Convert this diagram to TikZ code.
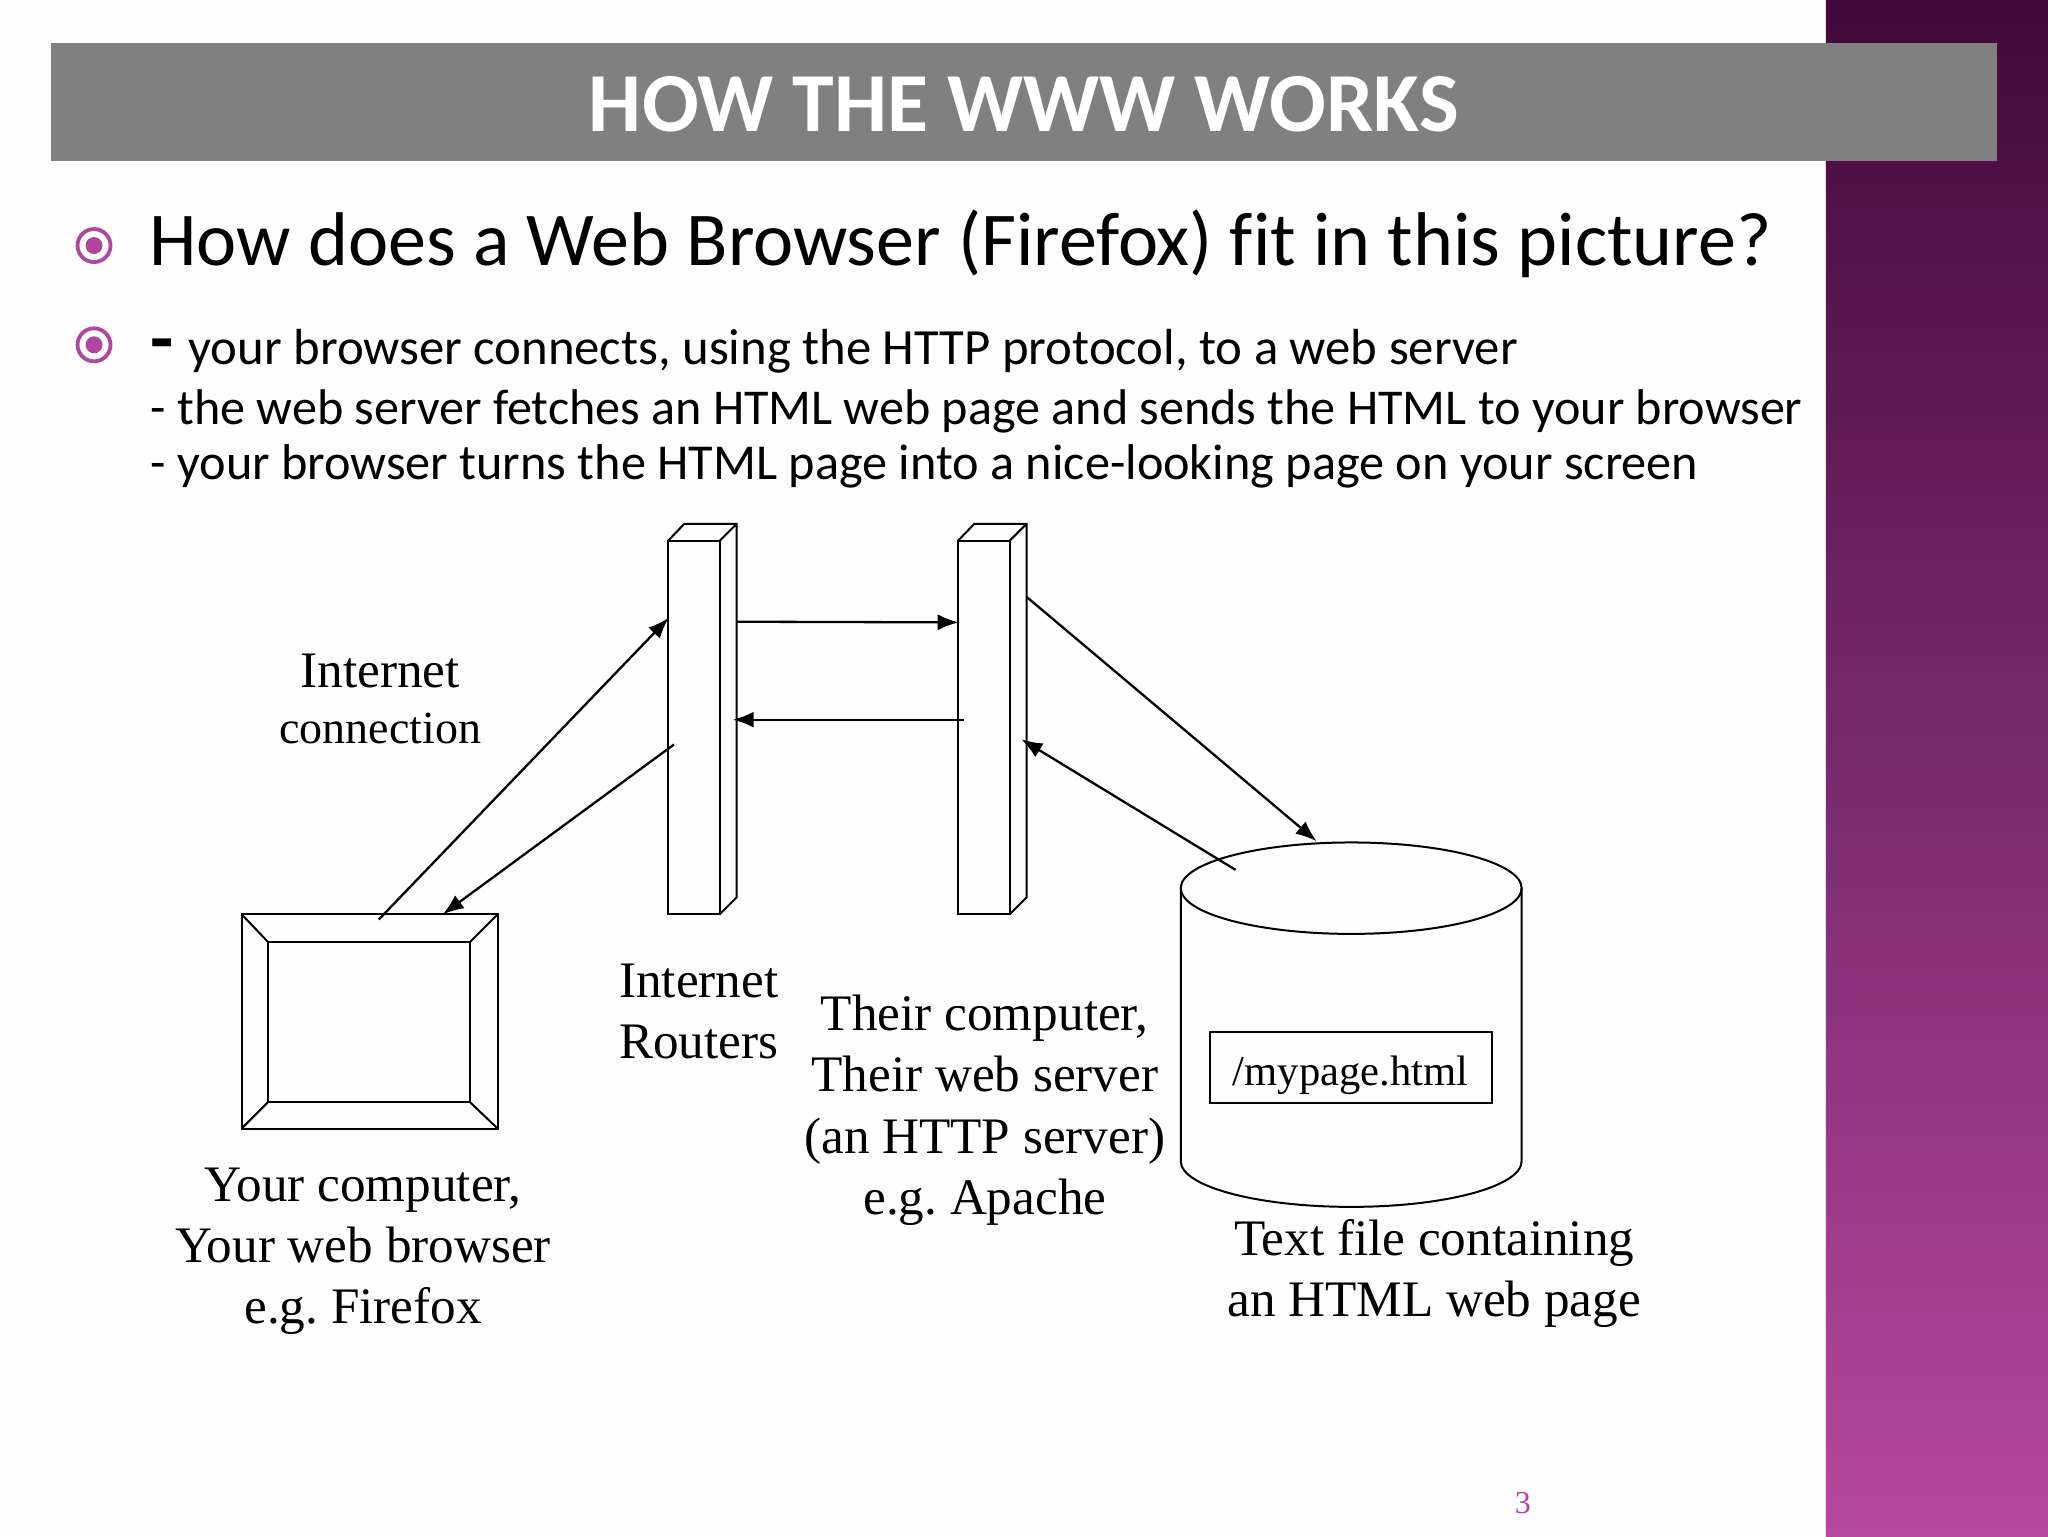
\documentclass[tikz,border=0pt]{standalone}
\usepackage{fontspec}
\usetikzlibrary{arrows.meta}
\setmainfont{Liberation Serif}
\newfontfamily\slidefont[Ligatures=NoCommon]{Carlito}
\definecolor{bandtop}{HTML}{43083A}
\definecolor{bandmid}{HTML}{7A2A6E}
\definecolor{bandbot}{HTML}{B6489F}
\definecolor{accent}{HTML}{B0479F}
\definecolor{titlebar}{HTML}{808080}
\newcommand{\fs}[1]{\fontsize{#1}{#1}\selectfont}
\frenchspacing
\tikzset{
  x=0.65306pt,y=-0.65306pt,
  ink/.style={draw=black,line width=1pt,line join=miter},
  wire/.style={draw=black,line width=1.15pt,-{Latex[length=10.5pt,width=8pt]}},
  titletext/.style={anchor=base,text=white,font=\slidefont\bfseries\fs{42}},
  headline/.style={anchor=base west,text=black,inner sep=0pt,font=\slidefont\fs{38.05}},
  bodyline/.style={anchor=base west,text=black,inner sep=0pt,font=\slidefont\fs{25.2}},
  lab/.style={align=center,inner sep=0pt,font=\fs{25.6},text=black},
  ringout/.style={circle,draw=accent,line width=1.9pt,fill=white,minimum size=16.5pt,inner sep=0pt},
  ringin/.style={circle,fill=accent,minimum size=8.5pt,inner sep=0pt},
}
\begin{document}
\begin{tikzpicture}
\useasboundingbox (0,0) rectangle (1568,1176);
\fill[white!99!accent] (0,0) rectangle (1398,1176);
\shade[top color=bandtop,bottom color=bandbot,middle color=bandmid] (1398,0) rectangle (1568,1176);
\fill[titlebar] (39,33) rectangle (1529,123);
\node[titletext] (title) at (784,101) {HOW THE WWW WORKS};
% bullets
\node[ringout] (b1) at (72,188) {};
\node[ringin] (b1d) at (72,188) {};
\node[ringout] (b2) at (72,264) {};
\node[ringin] (b2d) at (72,264) {};
\node[headline] (l1) at (114,203) {How does a Web Browser (Firefox) fit in this picture?};
\node[bodyline,font=\slidefont\bfseries\fs{38}] (l2a) at (115,279) {-};
\node[bodyline,font=\slidefont\fs{25.37}] (l2) at (144,279) {your browser connects, using the HTTP protocol, to a web server};
\node[bodyline,font=\slidefont\fs{25.06}] (l3) at (115,325) {- the web server fetches an HTML web page and sends the HTML to your browser};
\node[bodyline,font=\slidefont\fs{25.13}] (l4) at (115,367) {- your browser turns the HTML page into a nice-looking page on your screen};
% monitor
\draw[ink] (185,700) rectangle (381,864);
\draw[ink] (205,721) rectangle (360,844);
\draw[ink] (185,700)--(205,721) (381,700)--(360,721) (185,864)--(205,844) (381,864)--(360,844);
% routers
\draw[ink] (511.5,414) rectangle (551,700);
\draw[ink] (511.5,414)--(524,401)--(564,401)--(564,687)--(551,700) (551,414)--(564,401);
\draw[ink] (733.5,414) rectangle (773,700);
\draw[ink] (733.5,414)--(746,401)--(786,401)--(786,687)--(773,700) (773,414)--(786,401);
% cylinder
\draw[ink] (904,680) arc[start angle=180,end angle=-180,x radius=130.5,y radius=35];
\draw[ink] (904,680)--(904,889) arc[start angle=180,end angle=0,x radius=130.5,y radius=35]--(1165,680);
\node[draw=black,line width=1pt,minimum width=141pt,inner sep=0pt,text height=26.4pt,text depth=9.1pt,font=\fs{21.3}] (file) at (1034,817.5) {/mypage.html};
% connector ends
\coordinate (monA) at (290,704);
\coordinate (monB) at (339,700);
\coordinate (r1A) at (512,473);
\coordinate (r1B) at (516,570);
\coordinate (r1C) at (564,476);
\coordinate (r1D) at (561,551);
\coordinate (r2A) at (734,476.5);
\coordinate (r2B) at (738,551);
\coordinate (r2C) at (786,457);
\coordinate (r2D) at (782,566);
\coordinate (dbA) at (1008,644);
\coordinate (dbB) at (946,666);
\draw[wire] (monA)--(r1A);
\draw[wire] (r1B)--(monB);
\draw[wire] (r1C)--(r2A);
\draw[wire] (r2B)--(r1D);
\draw[wire] (r2C)--(dbA);
\draw[wire] (dbB)--(r2D);
% labels
\node[lab] (t1) at (291,513.5) {Internet};
\node[lab,font=\fs{23}] (t2) at (291,558) {connection};
\node[lab,align=left] (t3) at (535,774.5) {Internet\\[5pt]Routers};
\node[lab] (t4) at (754,850) {Their computer,\\[5pt]Their web server\\[5pt](an HTTP server)\\[5pt]e.g. Apache};
\node[lab] (t5) at (278,958) {Your computer,\\[5pt]Your web browser\\[5pt]e.g. Firefox};
\node[lab] (t6) at (1098,975) {Text file containing\\[5pt]an HTML web page};
\node[text=accent,inner sep=0pt,font=\fs{16}] (pg) at (1166,1151) {3};
\end{tikzpicture}
\end{document}
